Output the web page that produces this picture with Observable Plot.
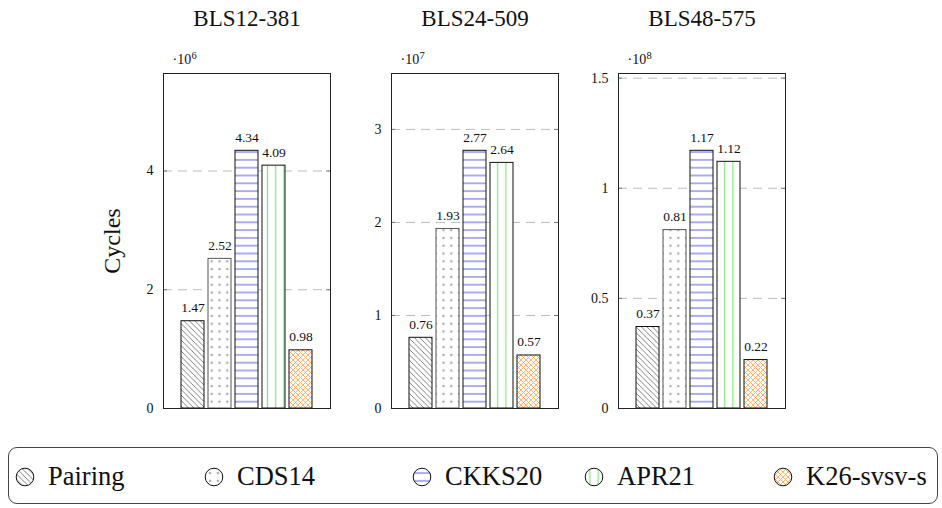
<!DOCTYPE html>
<html>
<head>
<meta charset="utf-8">
<script src="https://cdn.jsdelivr.net/npm/d3@7"></script>
<script src="https://cdn.jsdelivr.net/npm/@observablehq/plot@0.6"></script>
<style>
  html, body { margin: 0; padding: 0; background: #fff; }
  body { font-family: "Liberation Serif", "DejaVu Serif", serif; }
  #root { position: relative; width: 942px; height: 508px; overflow: hidden; background: #fff; }
  .panel { position: absolute; top: 0; }
  #legend { position: absolute; left: 8px; top: 447px; width: 930px; height: 57px;
            border: 1px solid #444; border-radius: 9px; box-sizing: border-box; }
  .item { position: absolute; top: 0; height: 57px; display: flex; align-items: center; }
  .item svg { display: block; }
  .item span { font-size: 26.5px; color: #111; margin-left: 13px; line-height: 1; }
</style>
</head>
<body>
<div id="root">
  <svg width="0" height="0" style="position:absolute">
    <defs>
      <pattern id="pat0" patternUnits="userSpaceOnUse" width="5.5" height="5.5">
        <rect width="5.5" height="5.5" fill="#fff"/>
        <path d="M-1,-1L6.5,6.5M-1,4.5L1,6.5M4.5,-1L6.5,1" stroke="#555" stroke-width="0.75"/>
      </pattern>
      <pattern id="pat1" patternUnits="userSpaceOnUse" width="7.8" height="7.8">
        <rect width="7.8" height="7.8" fill="#fff"/>
        <circle cx="3.9" cy="3.9" r="1.25" fill="#aaa"/>
      </pattern>
      <pattern id="pat2" patternUnits="userSpaceOnUse" width="8" height="7.8">
        <rect width="8" height="7.8" fill="#fff"/>
        <line x1="0" x2="8" y1="3.9" y2="3.9" stroke="#5a5ae6" stroke-width="1"/>
      </pattern>
      <pattern id="pat3" patternUnits="userSpaceOnUse" width="8.2" height="8">
        <rect width="8.2" height="8" fill="#fff"/>
        <line x1="4.1" x2="4.1" y1="0" y2="8" stroke="#7de87d" stroke-width="1.2"/>
      </pattern>
      <pattern id="pat4" patternUnits="userSpaceOnUse" width="5" height="5">
        <rect width="5" height="5" fill="#fff"/>
        <path d="M-1,-1L6,6M-1,4L1,6M4,-1L6,1M-1,6L6,-1M-1,1L1,-1M4,6L6,4" stroke="#ffad5c" stroke-width="0.9"/>
      </pattern>
    </defs>
  </svg>
  <div id="legend"></div>
</div>
<script>
// ---- data ----
const methods = ["Pairing", "CDS14", "CKKS20", "APR21", "K26-svsv-s"];
const curveNames = ["BLS12-381", "BLS24-509", "BLS48-575"];
const bls12_381 = [1.47, 2.52, 4.34, 4.09, 0.98];
const bls24_509 = [0.76, 1.93, 2.77, 2.64, 0.57];
const bls48_575 = [0.37, 0.81, 1.17, 1.12, 0.22];
const exponents = [6, 7, 8];
const yTicks12 = [0, 2, 4];
const yTicks24 = [0, 1, 2, 3];
const yTicks48 = [0, 0.5, 1, 1.5];

// ---- styling ----
const series = [bls12_381, bls24_509, bls48_575];
const tickSets = [yTicks12, yTicks24, yTicks48];
const patternFills = ["url(#pat0)", "url(#pat1)", "url(#pat2)", "url(#pat3)", "url(#pat4)"];
const barStrokes = ["#111", "#555", "#111", "#111", "#111"];
const frameLefts = [163, 391, 618];
const frameW = 167, frameH = 335, frameTop = 73;
const ink = "#111";

const root = document.getElementById("root");

series.forEach((vals, i) => {
  const data = methods.map((m, j) => ({method: m, value: vals[j], fill: patternFills[j], stroke: barStrokes[j]}));
  const ml = i === 0 ? 80 : 45, mr = 20, mt = frameTop, mb = 22;
  const ticks = tickSets[i];
  const chart = Plot.plot({
    width: ml + frameW + mr,
    height: mt + frameH + mb,
    marginLeft: ml, marginRight: mr, marginTop: mt, marginBottom: mb,
    style: {fontFamily: "'Liberation Serif', 'DejaVu Serif', serif", fontSize: "14px", color: ink, background: "transparent", overflow: "visible"},
    x: {domain: methods, paddingInner: 0.14, paddingOuter: 0.57, axis: null},
    y: {domain: [0, d3.max(vals) * 1.3], axis: null},
    color: {type: "identity"},
    marks: [
      Plot.ruleY(ticks.filter(t => t > 0), {stroke: "#bdbdbd", strokeDasharray: "9,6"}),
      Plot.ruleY(ticks, {stroke: "#777", insetRight: frameW - 4}),
      Plot.ruleY(ticks, {stroke: "#777", insetLeft: frameW - 4}),
      Plot.barY(data, {x: "method", y: "value", fill: "fill", stroke: "stroke", strokeWidth: 1}),
      Plot.text(data, {x: "method", y: "value", text: d => d.value.toFixed(2), dy: -9, lineAnchor: "bottom", fontSize: 13.5, fill: ink}),
      Plot.axisY(ticks, {tickSize: 0, tickPadding: 10, fontSize: 14, label: null, fill: ink, tickFormat: d => `${d}`}),
      Plot.frame({stroke: "#222"}),
      Plot.text([curveNames[i]], {frameAnchor: "top", dy: -55, lineAnchor: "middle", fontSize: 23, fill: ink}),
      Plot.text(["\u00b710"], {frameAnchor: "top-left", dx: 9, dy: -10, textAnchor: "start", lineAnchor: "bottom", fontSize: 14, fill: ink}),
      Plot.text([exponents[i]], {frameAnchor: "top-left", dx: 28, dy: -15, textAnchor: "start", lineAnchor: "bottom", fontSize: 10.5, fill: ink}),
      ...(i === 0 ? [Plot.text(["Cycles"], {frameAnchor: "left", dx: -51, rotate: -90, textAnchor: "middle", lineAnchor: "middle", fontSize: 24, fill: ink})] : [])
    ]
  });
  chart.classList.add("panel");
  chart.style.left = (frameLefts[i] - ml) + "px";
  root.appendChild(chart);
});

// ---- legend ----
const legendIconX = [24, 213, 421, 593, 782];
const legend = document.getElementById("legend");
methods.forEach((m, j) => {
  const item = document.createElement("div");
  item.className = "item";
  item.style.left = (legendIconX[j] - 8 - 10) + "px";
  item.innerHTML = `<svg width="20" height="20" viewBox="-10 -10 20 20"><circle r="8.8" fill="${patternFills[j]}" stroke="#111" stroke-width="1"/></svg><span>${m}</span>`;
  legend.appendChild(item);
});
</script>
</body>
</html>
